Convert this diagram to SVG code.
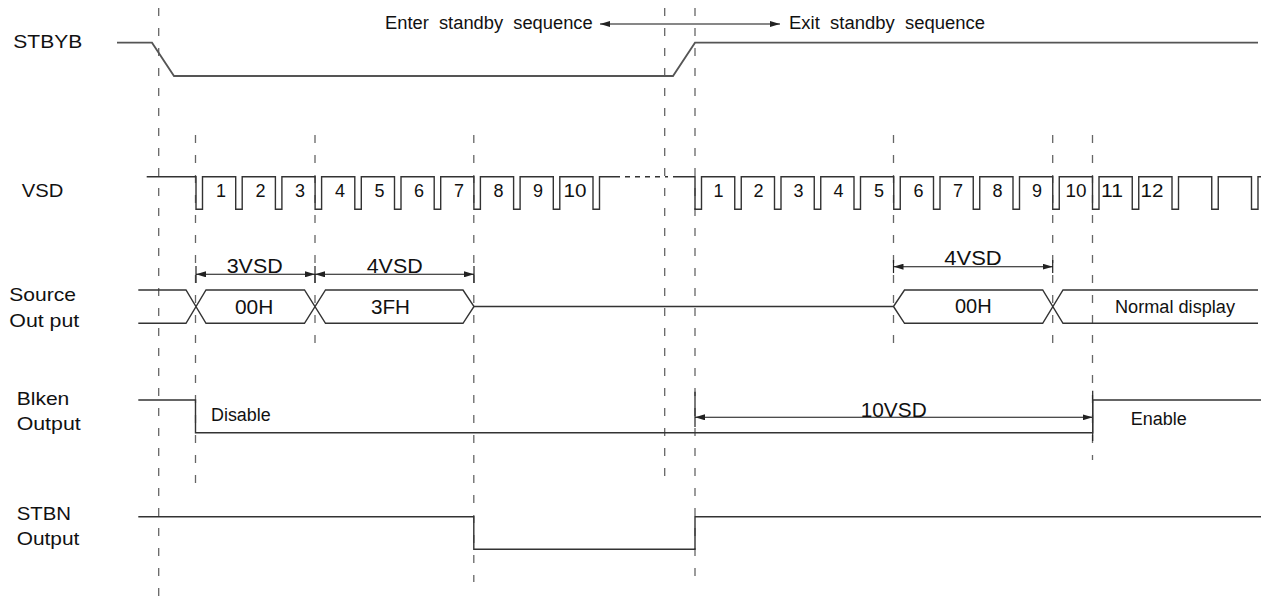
<svg xmlns="http://www.w3.org/2000/svg" width="1261" height="597" viewBox="0 0 1261 597">
<style>
text{font-family:"Liberation Sans",Arial,sans-serif;fill:#111;}
.lbl{font-size:19px;}
.sm{font-size:18px;}
.num{font-size:18px;text-anchor:middle;}
.dim{font-size:20px;}
.sig{fill:none;stroke:#333;stroke-width:1.4;}
.stb{fill:none;stroke:#555;stroke-width:1.8;}
.dash{fill:none;stroke:#666;stroke-width:1.3;stroke-dasharray:8 12;}
.dot{fill:none;stroke:#333;stroke-width:1.4;stroke-dasharray:5 5;}
.dl{fill:none;stroke:#111;stroke-width:1.1;}
.tick{fill:none;stroke:#222;stroke-width:1.2;}
.pre{white-space:pre;}
</style>
<defs>
<marker id="arr" viewBox="0 0 10 6" refX="10" refY="3" markerWidth="10" markerHeight="6" markerUnits="userSpaceOnUse" orient="auto-start-reverse">
<path d="M0,0 L10,3 L0,6 z" fill="#222"/>
</marker>
</defs>
<rect width="1261" height="597" fill="#fff"/>

<g id="connectors">
<g id="guides">
<line class="dash" x1="158.7" y1="8" x2="158.7" y2="597"/>
<line class="dash" x1="195.5" y1="135" x2="195.5" y2="483"/>
<line class="dash" x1="315" y1="135" x2="315" y2="352"/>
<line class="dash" x1="473.8" y1="135" x2="473.8" y2="582"/>
<line class="dash" x1="664.7" y1="8" x2="664.7" y2="488"/>
<line class="dash" x1="695" y1="8" x2="695" y2="585"/>
<line class="dash" x1="893.5" y1="135" x2="893.5" y2="352"/>
<line class="dash" x1="1052.7" y1="135" x2="1052.7" y2="352"/>
<line class="dash" x1="1092.5" y1="135" x2="1092.5" y2="460"/>
</g>
<g id="seq-arrow">
<line class="dl" x1="600" y1="24" x2="780" y2="24" marker-start="url(#arr)" marker-end="url(#arr)"/>
</g>
<g id="dim-3vsd">
<line class="tick" x1="196" y1="266" x2="196" y2="283"/>
<line class="tick" x1="315" y1="266" x2="315" y2="283"/>
<line class="dl" x1="196" y1="274.3" x2="315" y2="274.3" marker-start="url(#arr)" marker-end="url(#arr)"/>
</g>
<g id="dim-4vsd-a">
<line class="tick" x1="474" y1="266" x2="474" y2="283"/>
<line class="dl" x1="315" y1="274.3" x2="474" y2="274.3" marker-start="url(#arr)" marker-end="url(#arr)"/>
</g>
<g id="dim-4vsd-b">
<line class="tick" x1="893.5" y1="260" x2="893.5" y2="273"/>
<line class="tick" x1="1052.7" y1="260" x2="1052.7" y2="273"/>
<line class="dl" x1="893.5" y1="266.7" x2="1052.7" y2="266.7" marker-start="url(#arr)" marker-end="url(#arr)"/>
</g>
<g id="dim-10vsd">
<line class="tick" x1="695" y1="391.7" x2="695" y2="427"/>
<line class="tick" x1="1092.7" y1="390.7" x2="1092.7" y2="441"/>
<line class="dl" x1="695" y1="417.3" x2="1092.7" y2="417.3" marker-start="url(#arr)" marker-end="url(#arr)"/>
</g>
</g>

<g id="top-labels">
<text class="sm pre" x="385" y="29.3" textLength="207.7" lengthAdjust="spacingAndGlyphs">Enter  standby  sequence</text>
<text class="sm pre" x="789" y="29.3" textLength="196" lengthAdjust="spacingAndGlyphs">Exit  standby  sequence</text>
</g>

<g id="stbyb">
<text class="lbl" x="13.3" y="47.7" textLength="69" lengthAdjust="spacingAndGlyphs">STBYB</text>
<path class="stb" d="M117,42.7 H152 L174,76 H673 L695,42.7 H1258"/>
</g>

<g id="vsd">
<text class="lbl" x="21.7" y="197.3" textLength="41.6" lengthAdjust="spacingAndGlyphs">VSD</text>
<path class="sig" d="M146.7,176.7 H196 V209.3 H202.5 V176.7 H235.7 V209.3 H242.2 V176.7 H275.4 V209.3 H281.9 V176.7 H315.1 V209.3 H321.6 V176.7 H354.8 V209.3 H361.3 V176.7 H394.5 V209.3 H401 V176.7 H434.2 V209.3 H440.7 V176.7 H473.9 V209.3 H480.4 V176.7 H513.6 V209.3 H520.1 V176.7 H553.3 V209.3 H559.8 V176.7 H593 V209.3 H599.5 V176.7 H615"/>
<path class="dot" d="M615,176.7 H668"/>
<path class="sig" d="M673,176.7 H695 V209.3 H701.5 V176.7 H734.75 V209.3 H741.25 V176.7 H774.5 V209.3 H781 V176.7 H814.25 V209.3 H820.75 V176.7 H854 V209.3 H860.5 V176.7 H893.75 V209.3 H900.25 V176.7 H933.5 V209.3 H940 V176.7 H973.25 V209.3 H979.75 V176.7 H1013 V209.3 H1019.5 V176.7 H1052.75 V209.3 H1059.25 V176.7 H1092.5 V209.3 H1099 V176.7 H1132.25 V209.3 H1138.75 V176.7 H1172 V209.3 H1178.5 V176.7 H1211.75 V209.3 H1218.25 V176.7 H1251.5 V209.3 H1258 V176.7 H1261"/>
<g class="nums">
<text class="num" x="221" y="197.3">1</text>
<text class="num" x="260.5" y="197.3">2</text>
<text class="num" x="300" y="197.3">3</text>
<text class="num" x="340" y="197.3">4</text>
<text class="num" x="379.5" y="197.3">5</text>
<text class="num" x="419" y="197.3">6</text>
<text class="num" x="459" y="197.3">7</text>
<text class="num" x="498.5" y="197.3">8</text>
<text class="num" x="538" y="197.3">9</text>
<text class="num" x="575" y="197.3" textLength="23" lengthAdjust="spacingAndGlyphs">10</text>
<text class="num" x="718.5" y="197.3">1</text>
<text class="num" x="758.5" y="197.3">2</text>
<text class="num" x="798.5" y="197.3">3</text>
<text class="num" x="838.5" y="197.3">4</text>
<text class="num" x="879" y="197.3">5</text>
<text class="num" x="918.5" y="197.3">6</text>
<text class="num" x="958" y="197.3">7</text>
<text class="num" x="997.5" y="197.3">8</text>
<text class="num" x="1037" y="197.3">9</text>
<text class="num" x="1076" y="197.3" textLength="21" lengthAdjust="spacingAndGlyphs">10</text>
<text class="num" x="1112" y="197.3" textLength="22" lengthAdjust="spacingAndGlyphs">11</text>
<text class="num" x="1152" y="197.3" textLength="23" lengthAdjust="spacingAndGlyphs">12</text>
</g>
</g>

<g id="source">
<text class="lbl" x="9.3" y="300.7" textLength="66.7" lengthAdjust="spacingAndGlyphs">Source</text>
<text class="lbl" x="9.3" y="326.7" textLength="70" lengthAdjust="spacingAndGlyphs">Out put</text>
<path class="sig" d="M138.3,290 H186 L206,323.3 H304.5 L325.5,290 H463 L474,306.5 L463,323.3 H325.5 L304.5,290 H206 L186,323.3 H138.3"/>
<path class="sig" d="M474,306.5 H893.5 L904.5,290 H1042.7 L1063,323.3 H1258 M893.5,306.5 L904.5,323.3 H1042.7 L1063,290 H1258"/>
<text class="dim" x="235" y="314" textLength="38.3" lengthAdjust="spacingAndGlyphs">00H</text>
<text class="dim" x="371" y="314" textLength="39" lengthAdjust="spacingAndGlyphs">3FH</text>
<text class="dim" x="955" y="313.3" textLength="36.7" lengthAdjust="spacingAndGlyphs">00H</text>
<text class="sm" x="1115" y="313.3" textLength="120" lengthAdjust="spacingAndGlyphs">Normal display</text>
<text class="dim" x="226.7" y="273" textLength="56" lengthAdjust="spacingAndGlyphs">3VSD</text>
<text class="dim" x="366.7" y="273" textLength="56" lengthAdjust="spacingAndGlyphs">4VSD</text>
<text class="dim" x="944.3" y="265" textLength="57.4" lengthAdjust="spacingAndGlyphs">4VSD</text>
</g>

<g id="blken">
<text class="lbl" x="16.7" y="405" textLength="52.6" lengthAdjust="spacingAndGlyphs">Blken</text>
<text class="lbl" x="16.7" y="430" textLength="64" lengthAdjust="spacingAndGlyphs">Output</text>
<path class="sig" d="M138.3,400 H195.5 V432.7 H1092.7 V400 H1261"/>
<text class="sm" x="211" y="421" textLength="59.7" lengthAdjust="spacingAndGlyphs">Disable</text>
<text class="sm" x="1130.7" y="425" textLength="56" lengthAdjust="spacingAndGlyphs">Enable</text>
<text class="dim" x="860.7" y="417" textLength="66" lengthAdjust="spacingAndGlyphs">10VSD</text>
</g>

<g id="stbn">
<text class="lbl" x="16.7" y="520" textLength="54.3" lengthAdjust="spacingAndGlyphs">STBN</text>
<text class="lbl" x="16.7" y="545" textLength="62.6" lengthAdjust="spacingAndGlyphs">Output</text>
<path class="sig" d="M138.3,516.7 H473.8 V549.3 H695 V516.7 H1261"/>
</g>
</svg>
